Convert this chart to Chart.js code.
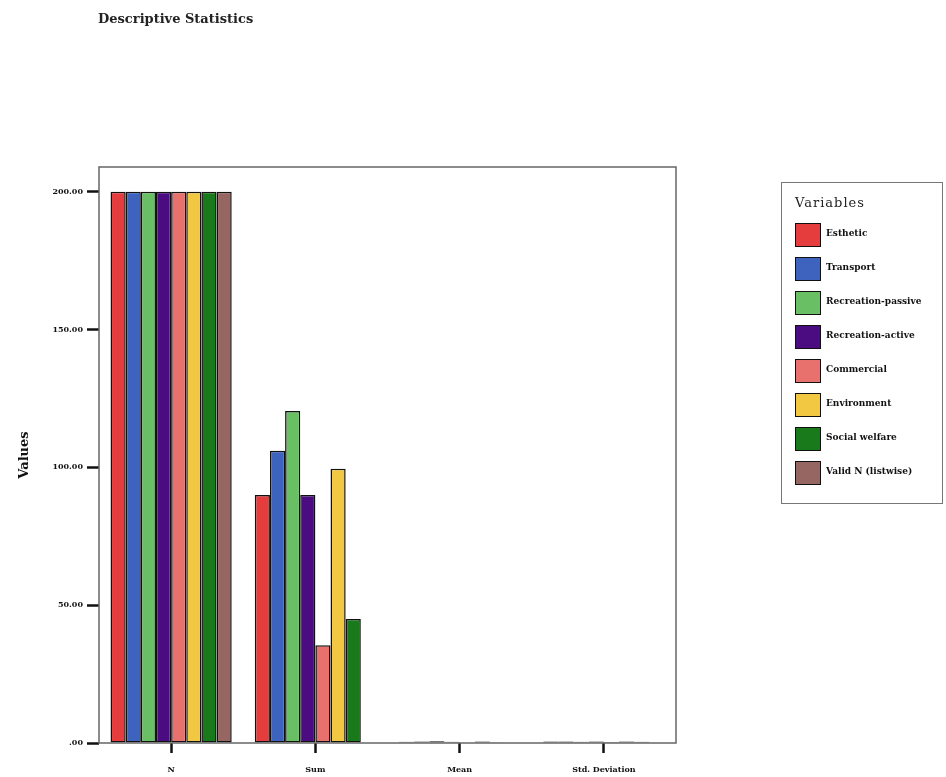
<!DOCTYPE html>
<html><head><meta charset="utf-8">
<script src="https://cdn.jsdelivr.net/npm/chart.js@4/dist/chart.umd.min.js"></script>
<style>
html,body{margin:0;padding:0;background:#fff;}
#wrap{position:relative;width:946px;height:777px;}
#title{position:absolute;left:98px;top:11px;font:bold 13px "DejaVu Serif",serif;color:#222;}
#legend{position:absolute;left:781px;top:182px;width:162px;height:322px;border:1px solid #777;box-sizing:border-box;font-family:"DejaVu Serif",serif;}
#legend .lt{position:absolute;left:13px;top:12px;font-size:13px;color:#222;letter-spacing:1px;}
#legend .it{position:absolute;left:13px;height:24px;}
#legend .sw{position:absolute;left:0;top:0;width:24px;height:22px;border:1.5px solid #111;}
#legend .lb{position:absolute;left:31px;top:5px;font-size:9px;font-weight:bold;white-space:nowrap;color:#111;}
</style></head>
<body><div id="wrap">
<canvas id="c" width="946" height="777"></canvas>
<div id="title">Descriptive Statistics</div>
<div id="legend"><div class="lt">Variables</div></div>
</div>
<script>
const categories = ["N", "Sum", "Mean", "Std. Deviation"];
const seriesNames = ["Esthetic", "Transport", "Recreation-passive", "Recreation-active", "Commercial", "Environment", "Social welfare", "Valid N (listwise)"];
const esthetic = [200, 90, 0.45, 0.5];
const transport = [200, 106, 0.53, 0.5];
const recreationPassive = [200, 120.5, 0.6, 0.49];
const recreationActive = [200, 90, 0.45, 0.5];
const commercial = [200, 35.5, 0.18, 0.38];
const environment = [200, 99.5, 0.5, 0.5];
const socialWelfare = [200, 45, 0.23, 0.42];
const validN = [200, null, null, null];
const yTicks = [0, 50, 100, 150, 200];
const colors = ["#e53c3e", "#3d63bf", "#69bf63", "#4a0c80", "#e8716d", "#f2c843", "#187a1a", "#966662"];

const allSeries = [esthetic, transport, recreationPassive, recreationActive, commercial, environment, socialWelfare, validN];
const datasets = allSeries.map((d, i) => ({
  label: seriesNames[i], data: d, backgroundColor: colors[i],
  borderColor: "#111", borderWidth: 1.5, borderSkipped: false,
  categoryPercentage: 0.84, barPercentage: 1.0
}));

const framePlugin = {
  id: "frame",
  afterDraw(chart) {
    const a = chart.chartArea, ctx = chart.ctx;
    ctx.save();
    ctx.strokeStyle = "#666"; ctx.lineWidth = 1.5;
    ctx.strokeRect(a.left, a.top, a.right - a.left, a.bottom - a.top);
    ctx.restore();
  }
};

new Chart(document.getElementById("c"), {
  type: "bar",
  data: { labels: categories, datasets },
  plugins: [framePlugin],
  options: {
    responsive: false, animation: false,
    layout: { padding: { top: 167, right: 270, bottom: 0, left: 0 } },
    plugins: { legend: { display: false }, tooltip: { enabled: false } },
    scales: {
      x: {
        grid: { display: true, drawOnChartArea: false, drawTicks: true, tickLength: 10, tickColor: "#111", tickWidth: 2.5, offset: false },
        border: { display: false },
        ticks: { color: "#111", font: { family: "DejaVu Serif", size: 8, weight: "bold" }, padding: 12, maxRotation: 0 },
        afterFit(s) { s.height = 34; }
      },
      y: {
        min: 0, max: 209,
        afterBuildTicks(s) { s.ticks = yTicks.map(v => ({ value: v })); },
        grid: { display: true, drawOnChartArea: false, drawTicks: true, tickLength: 12, tickColor: "#111", tickWidth: 2.5 },
        border: { display: false },
        ticks: { color: "#111", font: { family: "DejaVu Serif", size: 8, weight: "bold" }, padding: 4,
                 callback: v => v.toFixed(2).replace(/^0/, "") },
        title: { display: true, text: "Values", color: "#111", font: { family: "DejaVu Serif", size: 13, weight: "bold" }, padding: { top: 17, bottom: 0 } },
        afterFit(s) { s.width = 99; }
      }
    }
  }
});

const lg = document.getElementById("legend");
seriesNames.forEach((n, i) => {
  const it = document.createElement("div");
  it.className = "it"; it.style.top = (40 + i * 34) + "px";
  it.innerHTML = '<div class="sw" style="background:' + colors[i] + '"></div><div class="lb">' + n + '</div>';
  lg.appendChild(it);
});
</script>
</body></html>
